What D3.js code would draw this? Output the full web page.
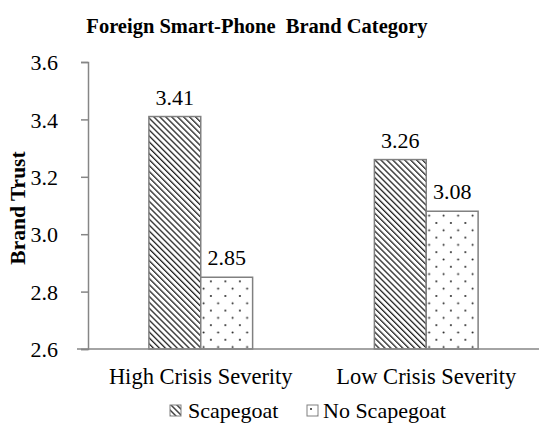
<!DOCTYPE html>
<html>
<head>
<meta charset="utf-8">
<script src="https://cdn.jsdelivr.net/npm/d3@7"></script>
<style>
  body { margin: 0; background: #fff; }
  text { font-family: "Liberation Serif", "Times New Roman", serif; fill: #000; }
</style>
</head>
<body>
<div id="chart"></div>
<script>
var width = 550, height = 436;

// data
var categories = ['High Crisis Severity', 'Low Crisis Severity'];
var seriesNames = ['Scapegoat', 'No Scapegoat'];
var scapegoat = [3.41, 3.26];
var noScapegoat = [2.85, 3.08];
var yTicks = [2.6, 2.8, 3.0, 3.2, 3.4, 3.6];

var svg = d3.select('#chart').append('svg')
  .attr('width', width)
  .attr('height', height);

var defs = svg.append('defs');

// diagonal hatch for scapegoat (lines running top-left to bottom-right)
var hatch = defs.append('pattern')
  .attr('id', 'hatch')
  .attr('patternUnits', 'userSpaceOnUse')
  .attr('width', 4.2)
  .attr('height', 4.2)
  .attr('patternTransform', 'rotate(-45)');
hatch.append('rect').attr('width', 4.2).attr('height', 4.2).attr('fill', '#fff');
hatch.append('line')
  .attr('x1', 0).attr('y1', 0).attr('x2', 0).attr('y2', 4.2)
  .attr('stroke', '#222').attr('stroke-width', 2.6);

// sparse dots for no scapegoat
var dots = defs.append('pattern')
  .attr('id', 'dots')
  .attr('patternUnits', 'userSpaceOnUse')
  .attr('x', 3).attr('y', 3)
  .attr('width', 14.5)
  .attr('height', 14.6);
dots.append('rect').attr('width', 14.5).attr('height', 14.6).attr('fill', '#fff');
dots.append('circle').attr('cx', 1).attr('cy', 1).attr('r', 1).attr('fill', '#222');
dots.append('circle').attr('cx', 8.25).attr('cy', 8.3).attr('r', 1).attr('fill', '#222');

var fills = ['url(#hatch)', 'url(#dots)'];

var x0 = d3.scaleBand()
  .domain(categories)
  .range([88, 539])
  .paddingInner(0.54)
  .paddingOuter(0.27);

var x1 = d3.scaleBand()
  .domain(seriesNames)
  .range([0, x0.bandwidth()]);

var y = d3.scaleLinear()
  .domain([2.6, 3.6])
  .range([349, 62]);

// y axis
var yAxis = svg.append('g')
  .attr('transform', 'translate(88,0)')
  .call(d3.axisLeft(y).tickValues(yTicks).tickFormat(d3.format('.1f')).tickSize(7).tickPadding(23));
yAxis.select('.domain').attr('stroke', '#868686').attr('stroke-width', 1.5);
yAxis.selectAll('.tick line').attr('stroke', '#868686').attr('stroke-width', 1.5);
yAxis.selectAll('.tick text')
  .style('font-family', '"Liberation Serif", serif')
  .style('font-size', '22px')
  .attr('dy', '0.35em')
  .attr('fill', '#000');

// bars
var rows = categories.map(function(c, i) {
  return { cat: c, values: [scapegoat[i], noScapegoat[i]] };
});

var groups = svg.selectAll('.grp')
  .data(rows)
  .enter().append('g')
  .attr('class', 'grp')
  .attr('transform', function(d) { return 'translate(' + x0(d.cat) + ',0)'; });

groups.selectAll('rect')
  .data(function(d) { return d.values.map(function(v, j) { return { s: seriesNames[j], v: v, j: j }; }); })
  .enter().append('rect')
  .attr('x', function(d) { return x1(d.s); })
  .attr('y', function(d) { return y(d.v); })
  .attr('width', x1.bandwidth())
  .attr('height', function(d) { return y(2.6) - y(d.v); })
  .attr('fill', function(d) { return fills[d.j]; })
  .attr('stroke', '#808080')
  .attr('stroke-width', 1.5);

groups.selectAll('.val')
  .data(function(d) { return d.values.map(function(v, j) { return { s: seriesNames[j], v: v }; }); })
  .enter().append('text')
  .attr('class', 'val')
  .attr('x', function(d) { return x1(d.s) + x1.bandwidth() / 2; })
  .attr('y', function(d) { return y(d.v) - 12; })
  .attr('text-anchor', 'middle')
  .style('font-size', '22px')
  .text(function(d) { return d3.format('.2f')(d.v); });

// baseline
svg.append('line')
  .attr('x1', 77).attr('x2', 539)
  .attr('y1', y(2.6)).attr('y2', y(2.6))
  .attr('stroke', '#868686').attr('stroke-width', 1.5);

// category labels
svg.selectAll('.cat')
  .data(categories)
  .enter().append('text')
  .attr('class', 'cat')
  .attr('x', function(d) { return x0(d) + x0.bandwidth() / 2; })
  .attr('y', 384)
  .attr('text-anchor', 'middle')
  .style('font-size', '22.5px')
  .text(function(d) { return d; });

// title
svg.append('text')
  .attr('x', 257)
  .attr('y', 33)
  .attr('text-anchor', 'middle')
  .style('font-size', '20.5px')
  .style('font-weight', 'bold')
  .attr('xml:space', 'preserve')
  .text('Foreign Smart-Phone  Brand Category');

// y label
svg.append('text')
  .attr('transform', 'translate(25,208) rotate(-90)')
  .attr('text-anchor', 'middle')
  .style('font-size', '21.5px')
  .style('font-weight', 'bold')
  .text('Brand Trust');

// legend
var legendX = [170, 307];
var leg = svg.selectAll('.leg')
  .data(seriesNames)
  .enter().append('g')
  .attr('class', 'leg')
  .attr('transform', function(d, i) { return 'translate(' + legendX[i] + ',405)'; });

leg.append('rect')
  .attr('width', 11).attr('height', 11)
  .attr('fill', function(d, i) { return fills[i]; })
  .attr('stroke', '#808080')
  .attr('stroke-width', 1);

leg.append('text')
  .attr('x', function(d, i) { return i === 0 ? 18 : 16; })
  .attr('y', 13)
  .style('font-size', '22px')
  .text(function(d) { return d; });
</script>
</body>
</html>
